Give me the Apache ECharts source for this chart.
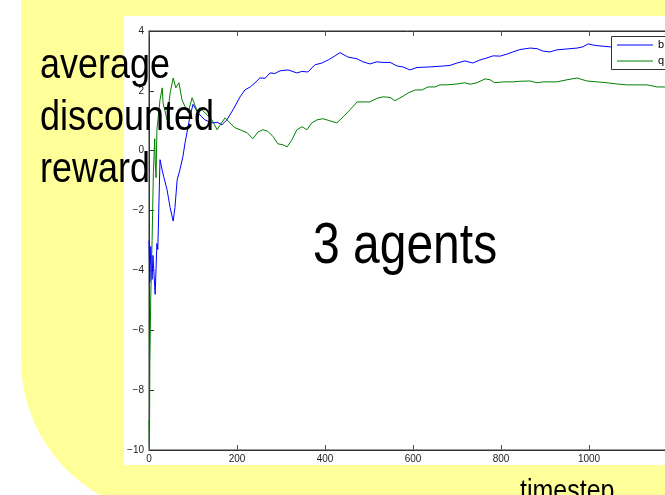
<!DOCTYPE html>
<html>
<head>
<meta charset="utf-8">
<script src="https://cdn.jsdelivr.net/npm/echarts@6/dist/echarts.min.js"></script>
<style>
  html, body { margin: 0; padding: 0; background: #ffffff; }
  #chart { width: 665px; height: 495px; }
</style>
</head>
<body>
<div id="chart"></div>
<script>
// Timesteps and average discounted reward for the two learners
const bSteps = [0, 2, 4, 7, 9, 14, 18, 20, 25, 30, 34, 41, 48, 55, 59, 64, 70, 77, 82, 93, 100, 111, 127, 143, 155, 166, 177, 191, 207, 218, 230, 241, 252, 264, 275, 286, 298, 316, 336, 348, 361, 377, 393, 407, 423, 434, 452, 473, 486, 502, 518, 532, 548, 564, 577, 593, 609, 639, 668, 684, 700, 718, 736, 752, 768, 782, 798, 814, 827, 843, 866, 882, 895, 911, 927, 950, 973, 986, 998, 1009, 1025, 1048, 1090, 1130, 1173];
const bReward = [-3.0, -4.4, -3.2, -4.3, -3.5, -4.8, -3.1, -3.3, -0.3, -0.65, -0.9, -1.3, -1.9, -2.35, -1.9, -0.97, -0.65, -0.2, 0.27, 1.13, 1.55, 1.27, 1.03, 0.93, 0.95, 0.87, 1.03, 1.37, 1.8, 2.03, 2.13, 2.27, 2.43, 2.42, 2.6, 2.58, 2.67, 2.7, 2.6, 2.65, 2.63, 2.87, 2.93, 3.03, 3.17, 3.28, 3.13, 3.07, 2.97, 2.9, 2.97, 2.95, 2.95, 2.83, 2.8, 2.7, 2.78, 2.8, 2.83, 2.85, 2.93, 3.0, 2.93, 3.03, 3.1, 3.17, 3.16, 3.23, 3.3, 3.38, 3.43, 3.41, 3.33, 3.3, 3.37, 3.4, 3.43, 3.47, 3.57, 3.53, 3.5, 3.47, 3.45, 3.42, 3.44];

const qSteps = [0, 1, 2, 4, 7, 10, 13, 14, 16, 18, 25, 30, 32, 41, 48, 55, 61, 68, 75, 82, 89, 98, 105, 111, 120, 132, 143, 155, 161, 173, 184, 195, 207, 223, 236, 248, 259, 270, 282, 293, 304, 314, 325, 336, 348, 359, 370, 382, 395, 411, 427, 441, 457, 473, 486, 502, 518, 532, 548, 559, 575, 589, 605, 620, 634, 650, 661, 677, 700, 718, 730, 745, 764, 775, 786, 805, 827, 843, 866, 882, 895, 927, 950, 973, 995, 1018, 1041, 1064, 1086, 1109, 1132, 1155, 1173];
const qReward = [-9.0, -9.9, -7.0, -4.9, -3.0, -0.7, 0.4, -0.3, -0.9, 0.7, 1.7, 2.1, 1.6, 1.03, 1.93, 2.43, 2.1, 2.27, 1.7, 1.47, 1.27, 1.77, 1.5, 1.27, 1.37, 1.2, 1.03, 0.7, 0.85, 1.1, 0.93, 0.77, 0.7, 0.6, 0.4, 0.63, 0.7, 0.65, 0.47, 0.23, 0.2, 0.13, 0.37, 0.7, 0.8, 0.7, 0.93, 1.03, 1.07, 1.0, 0.93, 1.13, 1.37, 1.63, 1.63, 1.63, 1.75, 1.8, 1.78, 1.67, 1.8, 1.93, 2.03, 2.03, 2.13, 2.13, 2.2, 2.2, 2.23, 2.27, 2.22, 2.27, 2.4, 2.37, 2.27, 2.3, 2.3, 2.32, 2.33, 2.27, 2.3, 2.3, 2.37, 2.43, 2.33, 2.3, 2.27, 2.23, 2.2, 2.2, 2.2, 2.13, 2.13];

const seriesNames = ['b', 'q'];
const seriesColors = ['#0000ff', '#008000'];
const xTicks = { min: 0, max: 1200, step: 200 };
const yTicks = { min: -10, max: 4, step: 2 };

const pairs = (xs, ys) => xs.map((x, i) => [x, ys[i]]);
const minus = v => String(v).replace('-', '\u2212');

const chart = echarts.init(document.getElementById('chart'), null, { renderer: 'canvas' });

const tickFont = { fontFamily: 'Liberation Sans, Arial, sans-serif', fontSize: 10, color: '#222' };
const bigFont = 'Liberation Sans, Arial, sans-serif';

// Key box in the upper right corner: one line sample and name per series
const keyBox = { x: 611, y: 36, rowH: 16, lineLen: 36 };
const keyGraphics = [
  { type: 'rect', z: 50, silent: true,
    shape: { x: keyBox.x + 0.5, y: keyBox.y + 0.5, width: 80, height: 33 },
    style: { fill: '#ffffff', stroke: '#333', lineWidth: 1 } }
];
seriesNames.forEach((name, i) => {
  const cy = keyBox.y + 9 + i * keyBox.rowH;
  keyGraphics.push(
    { type: 'line', z: 51, silent: true,
      shape: { x1: keyBox.x + 6, y1: cy, x2: keyBox.x + 6 + keyBox.lineLen, y2: cy },
      style: { stroke: seriesColors[i], lineWidth: 1.2 } },
    { type: 'text', z: 51, silent: true,
      x: keyBox.x + 6 + keyBox.lineLen + 5, y: cy,
      style: { text: name, font: '11px ' + bigFont, fill: '#000', verticalAlign: 'middle' } }
  );
});

chart.setOption({
  animation: false,
  backgroundColor: '#ffffff',
  color: seriesColors,
  grid: {
    left: 149, width: 528, top: 31, bottom: 45,
    outerBoundsMode: 'none', containLabel: false,
    show: true, borderColor: '#333', borderWidth: 1, backgroundColor: 'transparent'
  },
  xAxis: [{
    type: 'value', min: xTicks.min, max: xTicks.max, interval: xTicks.step,
    axisLine: { onZero: false, lineStyle: { color: '#333', width: 1 } },
    axisTick: { inside: true, length: 5, lineStyle: { color: '#555' } },
    axisLabel: Object.assign({ margin: 4, formatter: v => String(v) }, tickFont),
    splitLine: { show: false }
  }, {
    type: 'value', position: 'top', min: xTicks.min, max: xTicks.max, interval: xTicks.step,
    axisLine: { onZero: false, lineStyle: { color: '#333', width: 1 } },
    axisTick: { inside: true, length: 5, lineStyle: { color: '#555' } },
    axisLabel: { show: false },
    splitLine: { show: false }
  }],
  yAxis: {
    type: 'value', min: yTicks.min, max: yTicks.max, interval: yTicks.step,
    axisLine: { show: true, onZero: false, lineStyle: { color: '#333', width: 1 } },
    axisTick: { show: true, inside: true, length: 5, lineStyle: { color: '#333' } },
    axisLabel: Object.assign({ margin: 5, formatter: minus }, tickFont),
    splitLine: { show: false }
  },
  series: [
    {
      name: seriesNames[0], type: 'line', symbol: 'none', z: 3, color: seriesColors[0],
      lineStyle: { color: seriesColors[0], width: 1 }, itemStyle: { color: seriesColors[0] },
      data: pairs(bSteps, bReward)
    },
    {
      name: seriesNames[1], type: 'line', symbol: 'none', z: 3, color: seriesColors[1],
      lineStyle: { color: seriesColors[1], width: 1 }, itemStyle: { color: seriesColors[1] },
      data: pairs(qSteps, qReward)
    }
  ],
  graphic: [
    // slide backdrop: yellow panel with a sweeping lower-left corner, white plot sheet on it
    { type: 'rect', z: -10, silent: true,
      shape: { x: 21, y: 0, width: 700, height: 515, r: [0, 0, 0, 155] },
      style: { fill: '#ffff99' } },
    { type: 'rect', z: -9, silent: true,
      shape: { x: 124, y: 16, width: 600, height: 449 },
      style: { fill: '#ffffff' } },
    ...keyGraphics,
    // y-axis title, stacked words
    { type: 'text', z: 100, left: 40, top: 44, scaleY: 1.2,
      style: { text: 'average', font: '36px ' + bigFont, fill: '#000' } },
    { type: 'text', z: 100, left: 40, top: 96, scaleY: 1.2,
      style: { text: 'discounted', font: '36px ' + bigFont, fill: '#000' } },
    { type: 'text', z: 100, left: 40, top: 148, scaleY: 1.2,
      style: { text: 'reward', font: '36px ' + bigFont, fill: '#000' } },
    // panel caption
    { type: 'text', z: 100, left: 313, top: 218, scaleY: 1.2,
      style: { text: '3 agents', font: '48px ' + bigFont, fill: '#000' } },
    // x-axis title
    { type: 'text', z: 100, left: 520, top: 477, scaleY: 1.2,
      style: { text: 'timestep', font: '25px ' + bigFont, fill: '#000' } }
  ]
});
</script>
</body>
</html>
